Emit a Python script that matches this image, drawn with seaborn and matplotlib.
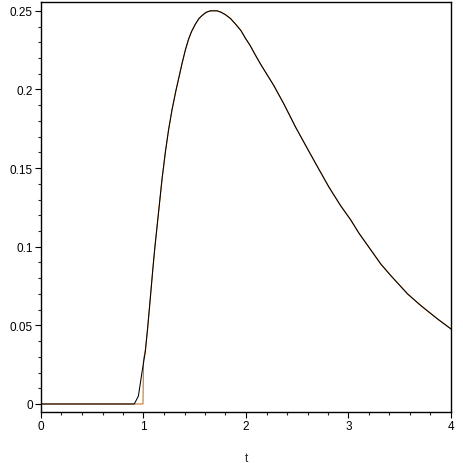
import matplotlib
matplotlib.use("Agg")
import matplotlib.pyplot as plt
import seaborn as sns
from matplotlib.ticker import MultipleLocator

# values
# common part of both curves (from t ~ 1.04 on they overlap)
t_tail = [1.04, 1.066, 1.09, 1.11, 1.147, 1.18, 1.213, 1.245, 1.278, 1.317, 1.345,
          1.376, 1.41, 1.44, 1.47, 1.506, 1.54, 1.571, 1.61, 1.653, 1.718, 1.76,
          1.80, 1.85, 1.897, 1.95, 1.995, 2.04, 2.086, 2.142, 2.272, 2.37, 2.484,
          2.598, 2.696, 2.81, 2.924, 3.022, 3.103, 3.201, 3.315, 3.413, 3.576,
          3.707, 3.87, 4.0]
y_tail = [0.048, 0.067, 0.085, 0.099, 0.122, 0.1425, 0.160, 0.1745, 0.187, 0.1995, 0.2075,
          0.2165, 0.2255, 0.232, 0.237, 0.2415, 0.245, 0.247, 0.249, 0.250, 0.250, 0.249,
          0.2475, 0.245, 0.2416, 0.2375, 0.2325, 0.228, 0.2225, 0.2161, 0.2024, 0.1907, 0.176,
          0.1625, 0.151, 0.1378, 0.126, 0.117, 0.1085, 0.0995, 0.089, 0.0816, 0.070,
          0.0625, 0.054, 0.0477]

# black curve leaves zero a little before t = 1
t_black_start = [0, 0.91, 0.95, 0.985, 1.017]
y_black_start = [0, 0, 0.005, 0.020, 0.033]

# orange curve jumps up at t = 1
t_orange_start = [0, 0.995, 1.0, 1.02]
y_orange_start = [0, 0, 0.028, 0.035]

t_black = t_black_start + t_tail
y_black = y_black_start + y_tail
t_orange = t_orange_start + t_tail
y_orange = y_orange_start + y_tail

sns.set_style("ticks")
plt.rcParams['font.family'] = ['Liberation Sans', 'DejaVu Sans']

fig = plt.figure(figsize=(4.64, 4.64), dpi=100)
ax = fig.add_axes([41 / 464, 51 / 464, 410 / 464, 410 / 464])

sns.lineplot(x=t_orange, y=y_orange, ax=ax, color="#c8782d", linewidth=0.8,
             sort=False, estimator=None)
sns.lineplot(x=t_black, y=y_black, ax=ax, color="black", linewidth=0.75,
             sort=False, estimator=None)

ax.set_xlim(0, 4.0)
ax.set_ylim(-0.0051, 0.2556)

ax.xaxis.set_major_locator(MultipleLocator(1))
ax.xaxis.set_minor_locator(MultipleLocator(0.2))
ax.yaxis.set_major_locator(MultipleLocator(0.05))
ax.yaxis.set_minor_locator(MultipleLocator(0.01))
ax.yaxis.set_major_formatter(plt.FuncFormatter(lambda v, p: "0" if abs(v) < 1e-9 else f"{v:g}"))

ax.tick_params(which="major", direction="out", length=4, width=0.8, labelsize=8.5,
               colors="black", pad=2)
ax.tick_params(which="minor", direction="out", length=2.5, width=0.8)
ax.tick_params(top=False, right=False, which="both")

for s in ax.spines.values():
    s.set_linewidth(1.0)
    s.set_color("black")

ax.set_xlabel("t", fontsize=8.5, labelpad=14)
ax.set_ylabel("")

fig.savefig("out.png", dpi=100)
